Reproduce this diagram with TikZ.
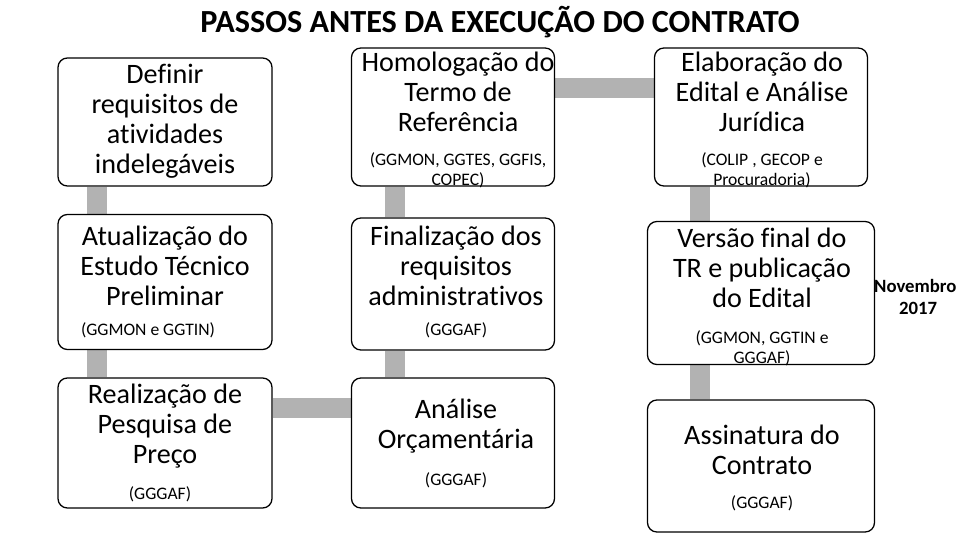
\documentclass[tikz,border=0pt]{standalone}
\usepackage{fontspec}
\setmainfont{Carlito}[Ligatures=NoCommon]
\usetikzlibrary{backgrounds}

\tikzset{
	stage/.style={draw,line width=1.1pt,rounded corners=8pt,fill=white},
	title/.style={align=center,font=\fontsize{24}{25.5}\selectfont},
	owner/.style={align=center,font=\fontsize{15}{17}\selectfont},
	bar/.style={line width=20*0.03cm,gray!60}
}

\begin{document}
\begin{tikzpicture}[x=0.03cm,y=-0.03cm]
	\useasboundingbox (0,0) rectangle (960,540);

	\node [font=\fontsize{27.5}{30}\selectfont\bfseries] (heading) at (500,22) {PASSOS ANTES DA EXECUÇÃO DO CONTRATO};

	% boxes
	\node [stage,minimum width=214*0.03cm,minimum height=128*0.03cm] (box 1) at (165,122) {};
	\node [stage,minimum width=214*0.03cm,minimum height=135*0.03cm] (box 2) at (165,282) {};
	\node [stage,minimum width=214*0.03cm,minimum height=130*0.03cm] (box 3) at (165,443) {};
	\node [stage,minimum width=203*0.03cm,minimum height=130*0.03cm] (box 4) at (453,443) {};
	\node [stage,minimum width=203*0.03cm,minimum height=132*0.03cm] (box 5) at (453,284) {};
	\node [stage,minimum width=203*0.03cm,minimum height=138*0.03cm] (box 6) at (453,117) {};
	\node [stage,minimum width=213*0.03cm,minimum height=138*0.03cm] (box 7) at (761,117) {};
	\node [stage,minimum width=227*0.03cm,minimum height=143*0.03cm] (box 8) at (761,293) {};
	\node [stage,minimum width=227*0.03cm,minimum height=132*0.03cm] (box 9) at (761,466) {};

	% connectors
	\begin{scope}[on background layer]
		\draw[bar] (box 1.south -| 97,0) -- (box 2.north -| 97,0);
		\draw[bar] (box 2.south -| 97,0) -- (box 3.north -| 97,0);
		\draw[bar] (box 3.east |- 0,408) -- (box 4.west |- 0,408);
		\draw[bar] (box 4.north -| 395,0) -- (box 5.south -| 395,0);
		\draw[bar] (box 5.north -| 395,0) -- (box 6.south -| 395,0);
		\draw[bar] (box 6.east |- 0,88) -- (box 7.west |- 0,88);
		\draw[bar] (box 7.south -| 700,0) -- (box 8.north -| 700,0);
		\draw[bar] (box 8.south -| 700,0) -- (box 9.north -| 700,0);
	\end{scope}

	% texts
	\node [title] (text 1) at (165,121) {Definir\\requisitos de\\atividades\\indelegáveis};
	\node [title] (text 2) at (165,266) {Atualização do\\Estudo Técnico\\Preliminar};
	\node [owner] (owner 2) at (148,330) {(GGMON e GGTIN)};
	\node [title] (text 3) at (165,426) {Realização de\\Pesquisa de\\Preço};
	\node [owner] (owner 3) at (160,494) {(GGGAF)};
	\node [title] (text 4) at (456,426) {Análise\\Orçamentária};
	\node [owner] (owner 4) at (456,480) {(GGGAF)};
	\node [title] (text 5) at (456,266) {Finalização dos\\requisitos\\administrativos};
	\node [owner] (owner 5) at (456,330) {(GGGAF)};
	\node [title] (text 6) at (458,92) {Homologação do\\Termo de\\Referência};
	\node [owner] (owner 6) at (458,170) {(GGMON, GGTES, GGFIS,\\COPEC)};
	\node [title] (text 7) at (762,92) {Elaboração do\\Edital e Análise\\Jurídica};
	\node [owner] (owner 7) at (762,170) {(COLIP , GECOP e\\Procuradoria)};
	\node [title] (text 8) at (762,268) {Versão final do\\TR e publicação\\do Edital};
	\node [owner] (owner 8) at (762,348) {(GGMON, GGTIN e\\GGGAF)};
	\node [title] (text 9) at (762,450) {Assinatura do\\Contrato};
	\node [owner] (owner 9) at (762,503) {(GGGAF)};

	\node [owner,anchor=west,font=\fontsize{16}{19}\selectfont\bfseries] (month) at (870,286) {Novembro};
	\node [owner,font=\fontsize{16}{19}\selectfont\bfseries] (year) at (918,308) {2017};
\end{tikzpicture}
\end{document}
